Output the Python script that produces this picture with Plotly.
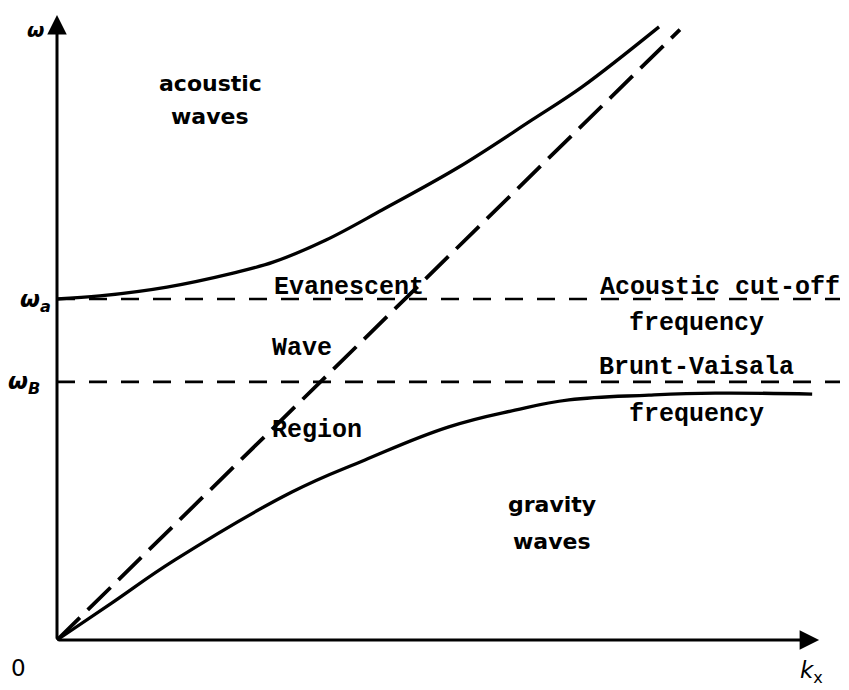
import plotly.graph_objects as go

# Dispersion diagram for atmospheric waves (normalised units: omega_a = 1, sound line omega = k)
OMEGA_A = 1.0          # acoustic cut-off frequency
OMEGA_B = 0.757        # Brunt-Vaisala frequency

# upper (acoustic) branch
acoustic_k = [0.0, 0.123, 0.316, 0.506, 0.621, 0.773, 0.934, 1.155, 1.365, 1.509, 1.730]
acoustic_w = [1.0, 1.009, 1.035, 1.076, 1.108, 1.173, 1.261, 1.387, 1.525, 1.622, 1.798]

# lower (gravity) branch
gravity_k = [0.0, 0.158, 0.339, 0.675, 0.885, 1.126, 1.316, 1.471, 1.701, 1.891, 2.170]
gravity_w = [0.0, 0.109, 0.235, 0.434, 0.528, 0.625, 0.674, 0.704, 0.718, 0.724, 0.721]

# sound line omega = c k
sound_k = [0.0, 1.79]
sound_w = [0.0, 1.79]

# extent of the horizontal reference lines and axes
line_k_end = 2.25
kx_axis_end = 2.19
w_axis_end = 1.833

# pixel scale of the axes
PX_K = 348.0
PX_W = 341.0
W, H = 849, 690
X0, Y0 = 57, 640   # origin position in the figure

x_range = [-X0 / PX_K, (W - X0) / PX_K]
y_range = [-(H - Y0) / PX_W, Y0 / PX_W]

fig = go.Figure()

for level in (OMEGA_A, OMEGA_B):
    fig.add_trace(go.Scatter(x=[0, line_k_end], y=[level, level], mode="lines",
                             line=dict(color="black", width=2.6, dash="18px,14px"),
                             hoverinfo="skip"))
fig.add_trace(go.Scatter(x=sound_k, y=sound_w, mode="lines",
                         line=dict(color="black", width=3.8, dash="32px,11px"),
                         hoverinfo="skip"))
fig.add_trace(go.Scatter(x=acoustic_k, y=acoustic_w, mode="lines",
                         line=dict(color="black", width=3.3, shape="spline", smoothing=1.0),
                         hoverinfo="skip"))
fig.add_trace(go.Scatter(x=gravity_k, y=gravity_w, mode="lines",
                         line=dict(color="black", width=3.3, shape="spline", smoothing=1.2),
                         hoverinfo="skip"))

# axes with arrowheads
fig.add_annotation(x=kx_axis_end, y=0, ax=0, ay=0, xref="x", yref="y", axref="x", ayref="y",
                   showarrow=True, arrowhead=2, arrowsize=1.3, arrowwidth=3, arrowcolor="black",
                   text="")
fig.add_annotation(x=0, y=w_axis_end, ax=0, ay=0, xref="x", yref="y", axref="x", ayref="y",
                   showarrow=True, arrowhead=2, arrowsize=1.3, arrowwidth=3, arrowcolor="black",
                   text="")

mono = "Liberation Mono"
sans = "DejaVu Sans"

# region and line labels: (text, k, omega, font family, size, weight)
labels = [
    ("acoustic", 0.440, 1.632, sans, 22, "bold"),
    ("waves", 0.440, 1.535, sans, 22, "bold"),
    ("Evanescent", 0.839, 1.035, mono, 25, "bold"),
    ("Wave", 0.704, 0.855, mono, 25, "bold"),
    ("Region", 0.747, 0.615, mono, 25, "bold"),
    ("Acoustic cut-off", 1.905, 1.035, mono, 25, "bold"),
    ("frequency", 1.839, 0.928, mono, 25, "bold"),
    ("Brunt-Vaisala", 1.839, 0.800, mono, 25, "bold"),
    ("frequency", 1.839, 0.660, mono, 25, "bold"),
    ("gravity", 1.422, 0.397, sans, 22, "bold"),
    ("waves", 1.422, 0.290, sans, 22, "bold"),
]
for text, k, w, fam, size, weight in labels:
    fig.add_annotation(x=k, y=w, text=text, showarrow=False, xanchor="center", yanchor="middle",
                       font=dict(family=fam, size=size, color="black", weight=weight))

# axis symbols: (text, k, omega, anchor, size, weight)
axis_labels = [
    ("<i>ω</i>", -0.062, 1.790, "center", 20, "bold"),
    ("<i>ω</i><sub><i>a</i></sub>", -0.012, 0.995, "right", 23, "bold"),
    ("<i>ω</i><sub><i>B</i></sub>", -0.043, 0.755, "right", 23, "bold"),
    ("0", -0.112, -0.082, "center", 23, "normal"),
    ("<i>k</i><sub>x</sub>", 2.168, -0.095, "center", 23, "normal"),
]
for text, k, w, anchor, size, weight in axis_labels:
    fig.add_annotation(x=k, y=w, text=text, showarrow=False, xanchor=anchor, yanchor="middle",
                       font=dict(family=sans, size=size, color="black", weight=weight))

fig.update_layout(
    width=W, height=H, margin=dict(l=0, r=0, t=0, b=0),
    paper_bgcolor="white", plot_bgcolor="white", showlegend=False,
    xaxis=dict(range=x_range, visible=False, fixedrange=True),
    yaxis=dict(range=y_range, visible=False, fixedrange=True),
)

fig.write_html("out.html")
